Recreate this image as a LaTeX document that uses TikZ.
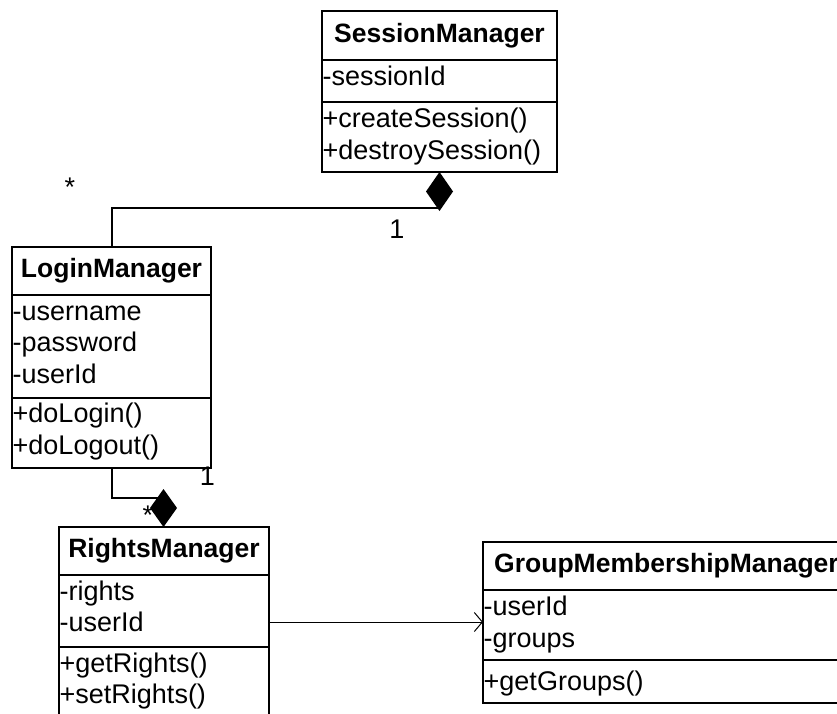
\documentclass[tikz,border=0pt]{standalone}
\usepackage{fontspec}
\setmainfont{Liberation Sans}
\usetikzlibrary{shapes.geometric,arrows.meta}

\begin{document}
\begin{tikzpicture}[x=1pt,y=-1pt,
  compart/.style={draw, line width=2pt, inner sep=0pt, outer sep=0pt, anchor=north west},
  classtitle/.style={compart, font=\fontsize{26.5}{32}\selectfont\bfseries},
  member/.style={anchor=base west, inner sep=0pt, font=\fontsize{27}{32}\selectfont},
  mult/.style={anchor=base, inner sep=0pt, font=\fontsize{27}{32}\selectfont},
  link/.style={line width=2pt},
  assoc/.style={line width=1pt, -{Straight Barb[length=8pt,width=19pt]}},
  compdiamond/.style={diamond, fill=black, inner sep=0pt, outer sep=0pt}
]
\useasboundingbox (0,0) rectangle (837,713);
\clip (0,0) rectangle (837,713);

% SessionManager
\node[classtitle, minimum width=235pt, minimum height=49pt] (smT) at (322,11) {SessionManager};
\node[compart, minimum width=235pt, minimum height=42pt] (smA) at (322,60) {};
\node[compart, minimum width=235pt, minimum height=70pt] (smM) at (322,102) {};
\node[member] (sm1) at (322.5,85) {-sessionId};
\node[member] (sm2) at (322.5,127) {+createSession()};
\node[member] (sm3) at (322.5,159) {+destroySession()};

% LoginManager
\node[classtitle, minimum width=199pt, minimum height=48pt] (lmT) at (12,247) {LoginManager};
\node[compart, minimum width=199pt, minimum height=103pt] (lmA) at (12,295) {};
\node[compart, minimum width=199pt, minimum height=70pt] (lmM) at (12,398) {};
\node[member] (lm1) at (12.5,320) {-username};
\node[member] (lm2) at (12.5,351.5) {-password};
\node[member] (lm3) at (12.5,383) {-userId};
\node[member] (lm4) at (12.5,422.5) {+doLogin()};
\node[member] (lm5) at (12.5,454) {+doLogout()};

% RightsManager
\node[classtitle, minimum width=210pt, minimum height=48pt] (rmT) at (59,527) {RightsManager};
\node[compart, minimum width=210pt, minimum height=72pt] (rmA) at (59,575) {};
\node[compart, minimum width=210pt, minimum height=68pt] (rmM) at (59,647) {};
\node[member] (rm1) at (59.5,600) {-rights};
\node[member] (rm2) at (59.5,631.5) {-userId};
\node[member] (rm3) at (59.5,672) {+getRights()};
\node[member] (rm4) at (59.5,703.5) {+setRights()};

% GroupMembershipManager
\node[classtitle, minimum width=367pt, minimum height=48pt] (gmT) at (483,542) {GroupMembershipManager};
\node[compart, minimum width=367pt, minimum height=70pt] (gmA) at (483,590) {};
\node[compart, minimum width=367pt, minimum height=43pt] (gmM) at (483,660) {};
\node[member] (gm1) at (483.5,615.5) {-userId};
\node[member] (gm2) at (483.5,647) {-groups};
\node[member] (gm3) at (483.5,690) {+getGroups()};

% composition: SessionManager <>-- LoginManager
\coordinate (j1) at (439.5,208);
\draw[link] (lmT.north) |- (j1);
\node[mult] (m1) at (70,196.5) {*};
\node[mult] (m2) at (397,238.5) {1};
\node[compdiamond, minimum width=27pt, minimum height=39pt] (d1) at (439.5,191.5) {};

% composition: LoginManager <>-- RightsManager
\coordinate (j2) at (163.5,498);
\draw[link] (lmM.south) |- (j2);
\node[mult] (m3) at (207.5,485.5) {1};
\node[mult] (m4) at (148,524) {*};
\node[compdiamond, minimum width=27pt, minimum height=38pt] (d2) at (163.5,508) {};

% association: RightsManager --> GroupMembershipManager
\coordinate (a0) at ([yshift=-11pt]rmA.east);
\draw[assoc] (a0) -- (a0 -| gmA.west);
\end{tikzpicture}
\end{document}
